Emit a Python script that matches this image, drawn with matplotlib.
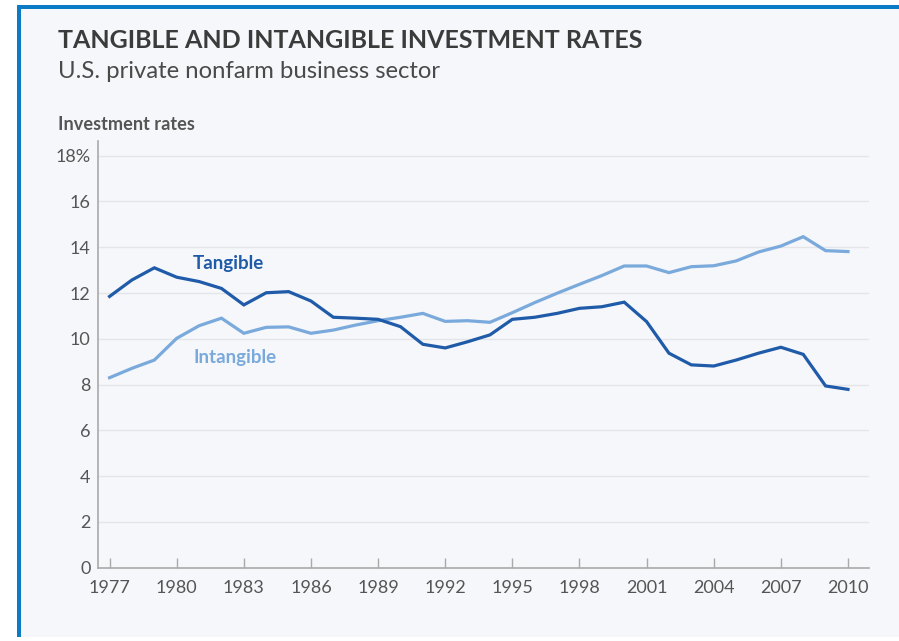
import matplotlib

matplotlib.use("Agg")
import matplotlib.pyplot as plt
from matplotlib.patches import Rectangle

# data (percent)
years = list(range(1977, 2011))
tangible = [11.85, 12.57, 13.10, 12.69, 12.50, 12.20, 11.48, 12.01, 12.06, 11.65,
            10.94, 10.90, 10.85, 10.53, 9.76, 9.60, 9.87, 10.17, 10.85, 10.94,
            11.11, 11.33, 11.40, 11.60, 10.75, 9.37, 8.86, 8.81, 9.07, 9.37,
            9.63, 9.32, 7.94, 7.79]
intangible = [8.30, 8.71, 9.07, 10.02, 10.57, 10.90, 10.24, 10.50, 10.52, 10.24,
              10.38, 10.60, 10.79, 10.94, 11.11, 10.76, 10.79, 10.72, 11.14, 11.58,
              11.99, 12.38, 12.76, 13.18, 13.18, 12.89, 13.15, 13.19, 13.40, 13.79,
              14.05, 14.46, 13.85, 13.81]
xticks = list(range(1977, 2011, 3))
yticks = list(range(0, 19, 2))
ytick_labels = [str(v) for v in yticks[:-1]] + ["18%"]

TANG_COL = "#1f5ba8"
INTANG_COL = "#7aa9dc"
TEXT_COL = "#555555"
BG = "#f5f7fa"

plt.rcParams["font.family"] = ["Lato", "DejaVu Sans"]

fig = plt.figure(figsize=(8.99, 6.41), dpi=100)
fig.patch.set_facecolor("white")

# panel background with blue left/top border
W, H = 899, 641
fig.patches.append(Rectangle((18 / W, (H - 637) / H), (W - 18) / W, (637 - 6) / H,
                             transform=fig.transFigure, facecolor=BG, edgecolor="none", zorder=-3))
fig.patches.append(Rectangle((17 / W, (H - 637) / H), 3.5 / W, (637 - 5) / H,
                             transform=fig.transFigure, facecolor="#0b7bc6", edgecolor="none", zorder=-2))
fig.patches.append(Rectangle((17 / W, (H - 9) / H), (W - 17) / W, 4 / H,
                             transform=fig.transFigure, facecolor="#0b7bc6", edgecolor="none", zorder=-2))

ax = fig.add_axes([97.5 / W, (H - 567.7) / H, (869 - 97.5) / W, (567.7 - 141) / H])
ax.set_facecolor(BG)
ax.plot(years, intangible, color=INTANG_COL, linewidth=2.3, solid_joinstyle="miter", zorder=3)
ax.plot(years, tangible, color=TANG_COL, linewidth=2.3, solid_joinstyle="miter", zorder=4)

ax.set_xlim(1976.46, 2010.94)
ax.set_ylim(0, 18.64)
ax.set_xticks(xticks)
ax.set_yticks(yticks)
ax.set_yticklabels(ytick_labels)
for v in yticks[1:]:
    ax.axhline(v, color="#e3e5e8", linewidth=1, zorder=1)

for side in ("top", "right"):
    ax.spines[side].set_visible(False)
for side in ("left", "bottom"):
    ax.spines[side].set_color("#aaaaaa")
    ax.spines[side].set_linewidth(1.2)
ax.tick_params(axis="x", direction="in", length=7, width=1, color="#aaaaaa",
               labelsize=13, labelcolor=TEXT_COL, pad=9)
ax.tick_params(axis="y", length=0, labelsize=13, labelcolor=TEXT_COL, pad=5)

ax.text(1980.73, 13.27, "Tangible", color=TANG_COL, fontsize=13.5, fontweight="bold", va="center")
ax.text(1980.73, 9.2, "Intangible", color=INTANG_COL, fontsize=13.5, fontweight="bold", va="center")

fig.text(58 / W, 1 - 41 / H, "TANGIBLE AND INTANGIBLE INVESTMENT RATES", fontsize=18,
         fontweight="bold", color="#3b3b3b", va="center")
fig.text(58 / W, 1 - 71 / H, "U.S. private nonfarm business sector", fontsize=17.2,
         color="#4a4a4a", va="center")
fig.text(58 / W, 1 - 125 / H, "Investment rates", fontsize=13.1, fontweight="bold",
         color=TEXT_COL, va="center")

fig.savefig("out.png", dpi=100)
